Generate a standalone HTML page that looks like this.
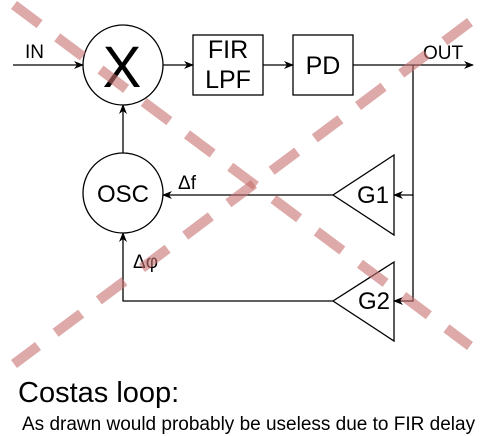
<!DOCTYPE html>
<html><head><style>body{margin:0;background:#fff}svg{display:block}text{font-family:"Liberation Sans",Arial,sans-serif}</style></head><body>
<svg width="501" height="436" viewBox="0 0 501 436" xmlns="http://www.w3.org/2000/svg">
<defs><marker id="a" markerWidth="10" markerHeight="8" refX="9" refY="4" orient="auto" markerUnits="userSpaceOnUse"><path d="M0,0 L10,4 L0,8 L3,4 Z" fill="#000"/></marker></defs>
<g stroke="#000" stroke-width="1.3" fill="none">
<circle cx="123" cy="65" r="40" fill="#fff"/>
<rect x="193" y="35" width="70" height="60" fill="#fff"/>
<rect x="293" y="35" width="60" height="60" fill="#fff"/>
<circle cx="123" cy="193" r="40" fill="#fff"/>
<path d="M394,155 L333,195 L394,235 Z" fill="#fff"/>
<path d="M394,262 L333,301 L394,341 Z" fill="#fff"/>
<line x1="13" y1="65" x2="83" y2="65" marker-end="url(#a)"/>
<line x1="163" y1="65" x2="193" y2="65" marker-end="url(#a)"/>
<line x1="263" y1="65" x2="293" y2="65" marker-end="url(#a)"/>
<line x1="353" y1="65" x2="473" y2="65" marker-end="url(#a)"/>
<polyline points="413,65 413,195 394,195" marker-end="url(#a)"/>
<polyline points="413,195 413,301 394,301" marker-end="url(#a)"/>
<line x1="333" y1="195" x2="163" y2="195" marker-end="url(#a)"/>
<line x1="123" y1="153" x2="123" y2="105" marker-end="url(#a)"/>
<polyline points="333,301 123,301 123,233" marker-end="url(#a)"/>
</g>
<g fill="#000">
<text x="25" y="58" font-size="19">IN</text>
<text x="122" y="87" font-size="58" text-anchor="middle">X</text>
<text x="228" y="58" font-size="25" text-anchor="middle">FIR</text>
<text x="228" y="88" font-size="25" text-anchor="middle">LPF</text>
<text x="323" y="74" font-size="25" text-anchor="middle">PD</text>
<text x="423" y="59" font-size="19">OUT</text>
<text x="123" y="202" font-size="24" text-anchor="middle">OSC</text>
<text x="373" y="203" font-size="24" text-anchor="middle">G1</text>
<text x="374" y="309" font-size="24" text-anchor="middle">G2</text>
<text x="178" y="189" font-size="19">Δf</text>
<text x="133" y="268" font-size="19">Δφ</text>
<text x="18" y="402" font-size="29">Costas loop:</text>
<text x="22" y="430" font-size="19">As drawn would probably be useless due to FIR delay</text>
</g>
<g stroke="#c87070" stroke-opacity="0.6" stroke-width="10" stroke-dasharray="32,22">
<line x1="14" y1="5" x2="470" y2="346"/>
<line x1="470" y1="22" x2="14" y2="364"/>
</g>
</svg>
</body></html>
